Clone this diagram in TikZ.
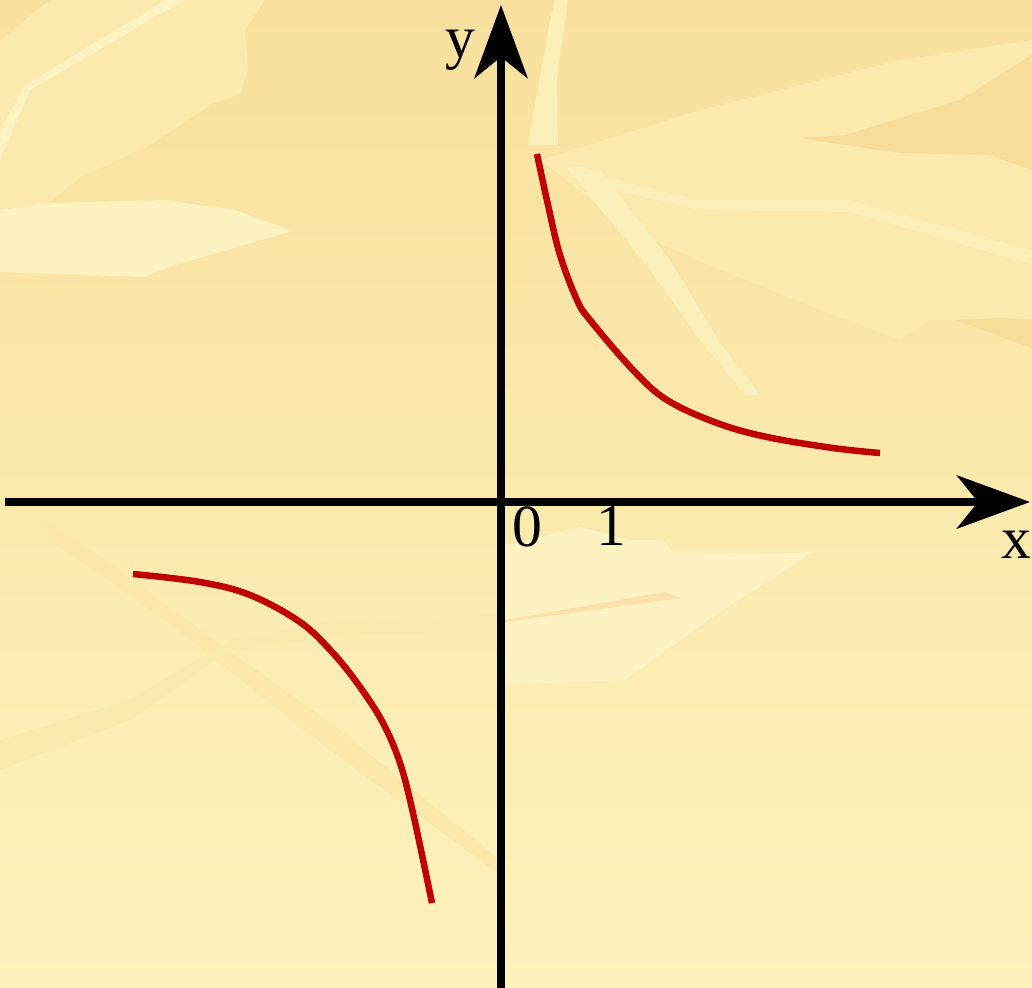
\documentclass[tikz,border=0pt]{standalone}
\usepackage{fontspec}
\setmainfont{Liberation Serif}
\usetikzlibrary{arrows.meta}
\definecolor{paperdark}{HTML}{F9E09E}
\definecolor{paperlight}{HTML}{FDF3BC}
\definecolor{paperpale}{HTML}{FCF3C0}
\definecolor{papermid}{HTML}{FBE9AD}
\definecolor{papershade}{HTML}{F8DC99}
\definecolor{paperpink}{HTML}{FBE0AA}
\definecolor{curvered}{HTML}{C00000}
\tikzset{
  axisline/.style={line width=0.17cm, black,
    -{Stealth[length=1.46cm, width=1.06cm, inset=0.42cm]}},
  curveline/.style={line width=0.13cm, curvered, line cap=butt},
  axislabel/.style={font=\fontsize{34}{40}\selectfont, anchor=base, inner sep=0pt}
}

\begin{document}
\begin{tikzpicture}[x={(0.02cm,0)}, y={(0,-0.02cm)}]
\useasboundingbox (0,0) rectangle (1032,988);

% Paper background
\fill[top color=paperdark, bottom color=paperlight] (0,0) rectangle (1032,988);
\fill[papermid] (0,240) -- (80,178) -- (150,145) -- (213,103) -- (240,95) -- (248,70)
  -- (245,30) -- (265,0) -- (50,0) -- (0,40) -- cycle;
\fill[paperpale] (0,272) -- (145,277) -- (175,265) -- (293,231) -- (235,210) -- (165,200)
  -- (50,203) -- (0,210) -- cycle;
\fill[paperpale] (0,160) -- (30,90) -- (185,0) -- (165,0) -- (25,85) -- (0,130) -- cycle;
\fill[papermid] (540,160) -- (700,110) -- (900,60) -- (1032,40) -- (1032,320) -- (930,320)
  -- (900,340) -- (820,310) -- (720,270) -- (630,230) -- cycle;
\fill[papershade] (800,138) -- (845,135) -- (960,100) -- (1032,55) -- (1032,170) -- (990,155)
  -- (900,153) -- cycle;
\fill[papershade] (955,320) -- (1000,318) -- (1032,320) -- (1032,348) -- cycle;
\fill[paperpale!60!papermid] (555,0) -- (568,0) -- (557,80) -- (558,145) -- (528,145)
  -- (548,30) -- cycle;
\fill[paperpale!70!papermid] (565,165) -- (600,170) -- (670,260) -- (718,340) -- (760,395)
  -- (745,395) -- (700,340) -- (650,270) -- cycle;
\fill[paperpale!60!papermid] (580,170) -- (700,200) -- (850,200) -- (1032,250) -- (1032,265)
  -- (850,212) -- (700,210) -- (590,185) -- cycle;
\fill[paperpale] (505,545) -- (580,527) -- (630,540) -- (663,540) -- (673,552) -- (790,553)
  -- (813,552) -- (770,580) -- (720,612) -- (625,680) -- (505,685) -- cycle;
\fill[paperpink] (505,620) -- (665,592) -- (680,598) -- (505,622) -- cycle;
\fill[paperdark!60!paperlight] (45,520) -- (50,540) -- (165,620) -- (330,750) -- (480,860)
  -- (500,875) -- (500,860) -- (340,730) -- (200,630) -- (105,560) -- cycle;
\fill[paperdark!50!paperlight] (0,740) -- (130,700) -- (230,640) -- (340,620) -- (500,615)
  -- (500,630) -- (340,635) -- (230,650) -- (130,720) -- (0,770) -- cycle;

% Axes
\coordinate (xstart) at (5,502);
\coordinate (xend) at (1030,502);
\coordinate (ystart) at (501,988);
\coordinate (yend) at (501,5);
\draw[axisline] (xstart) -- (xend);
\draw[axisline] (ystart) -- (yend);

% Labels
\node[axislabel] (ylab) at (460,57) {y};
\node[axislabel] (xlab) at (1016,558) {x};
\node[axislabel] (zero) at (527,546) {0};
\node[axislabel] (one) at (611,545) {1};

% Hyperbola branches
\draw[curveline] plot[smooth, tension=0.6] coordinates {(537,154) (548,205) (560,255)
  (577,300) (590,320) (633,370) (667,400) (717,423) (767,437) (833,448) (880,453)};
\draw[curveline] plot[smooth, tension=0.6] coordinates {(133,574) (200,582) (250,595)
  (300,622) (333,653) (360,687) (383,723) (400,763) (413,813) (432,903)};
\end{tikzpicture}
\end{document}
